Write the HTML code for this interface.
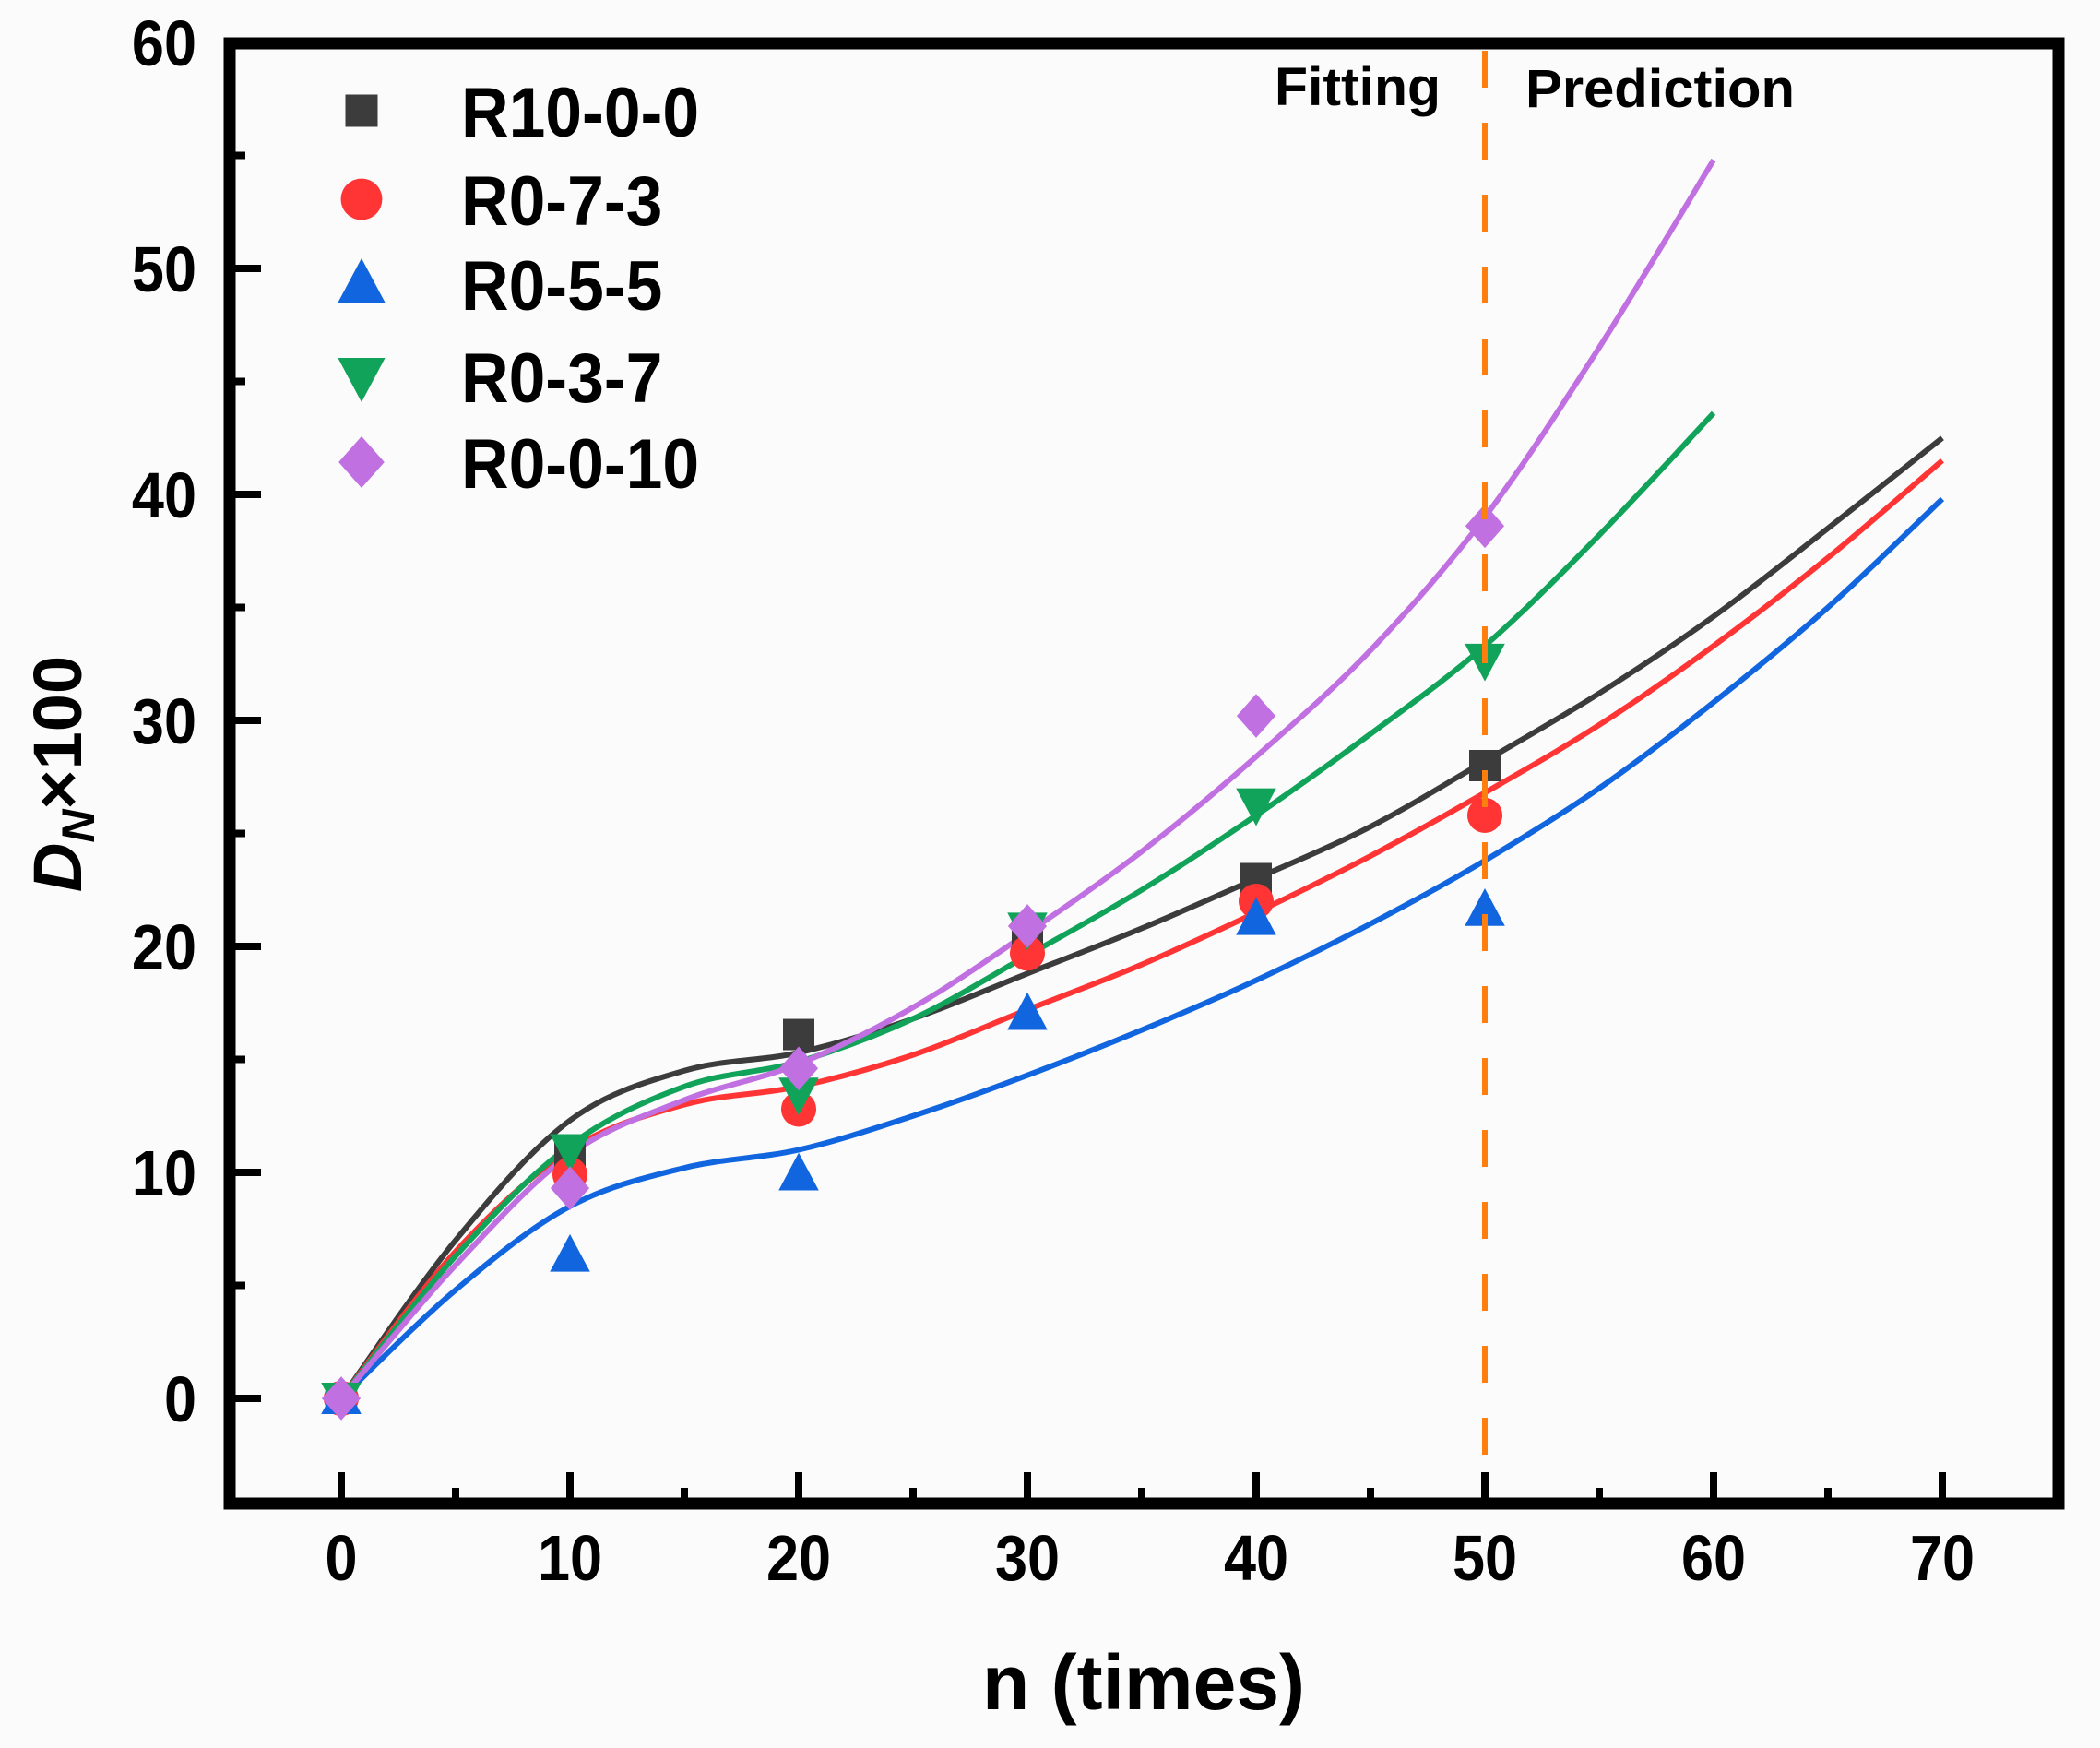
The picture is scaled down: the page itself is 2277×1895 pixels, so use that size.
<!DOCTYPE html>
<html><head><meta charset="utf-8"><style>
html,body{margin:0;padding:0;background:#fbfbfb;}
svg{display:block;font-family:"Liberation Sans",Arial,sans-serif;font-weight:bold;}
</style></head><body>
<svg id="chart" width="2277" height="1895" viewBox="0 0 2277 1895" xmlns="http://www.w3.org/2000/svg">
<rect x="0" y="0" width="2277" height="1895" fill="#fbfbfb"/>
<g id="curves"></g>
<g id="marks"></g>
<g id="axes"></g>
<text x="1472" y="114" font-size="58" text-anchor="middle" textLength="180" lengthAdjust="spacingAndGlyphs">Fitting</text>
<text x="1800" y="116" font-size="58" text-anchor="middle" textLength="292" lengthAdjust="spacingAndGlyphs">Prediction</text>
<text x="1240" y="1853" font-size="84" text-anchor="middle">n (times)</text>
<text transform="translate(88,839) rotate(-90)" font-size="74" text-anchor="middle"><tspan font-style="italic">D</tspan><tspan font-style="italic" font-size="50" dy="14">N</tspan><tspan dy="-14">×100</tspan></text>
<g id="legend"></g>
</svg>
<script>
const seriesNames = ["R10-0-0","R0-7-3","R0-5-5","R0-3-7","R0-0-10"];
const colors = ["#3c3c3c","#ff3535","#1166e0","#12a35a","#c070e0"];
const pointX = [0,10,20,30,40,50];
const ptR10 = [0,10.8,16.1,20.5,23.0,28.0];
const ptR073 = [0,9.9,12.8,19.7,22.0,25.8];
const ptR055 = [0,6.3,9.9,17.0,21.2,21.6];
const ptR037 = [0,11.0,13.5,20.8,26.3,32.7];
const ptR0010 = [0,9.3,14.6,20.9,30.2,38.6];
const curveX = [0,5,10,15,20,25,30,35,40,45,50,55,60,65,70];
const fitR10 = [0,7.0,12.3,14.5,15.3,16.8,18.8,20.8,23.0,25.3,28.2,31.2,34.6,38.5,42.5];
const fitR073 = [0,6.5,11.0,13.0,13.8,15.2,17.2,19.2,21.5,24.0,26.8,29.8,33.3,37.2,41.5];
const fitR055 = [0,4.8,8.5,10.2,11.0,12.5,14.3,16.3,18.5,21.0,23.8,27.0,30.8,35.0,39.8];
const fitR037 = [0,6.3,11.2,13.8,14.9,16.8,19.6,22.5,25.8,29.4,33.3,38.2,43.6];
const fitR0010 = [0,5.9,10.8,13.2,14.8,17.3,20.6,24.2,28.4,33.1,39.0,46.5,54.8];
const xTicks = [0,10,20,30,40,50,60,70];
const yTicks = [0,10,20,30,40,50,60];
const dividerX = 50;

const pts=[ptR10,ptR073,ptR055,ptR037,ptR0010];
const fits=[fitR10,fitR073,fitR055,fitR037,fitR0010];
const X0=370, XS=24.8, Y0=1516, YS=24.5;
const L=249,T=47,R=2232,B=1630;
const sx=v=>X0+v*XS, sy=v=>Y0-v*YS;
const NS="http://www.w3.org/2000/svg";
function mk(tag,attrs,parent){const e=document.createElementNS(NS,tag);for(const k in attrs)e.setAttribute(k,attrs[k]);parent.appendChild(e);return e;}
const gC=document.getElementById('curves'),gM=document.getElementById('marks'),gA=document.getElementById('axes'),gL=document.getElementById('legend');

function smooth(p){let d=`M${p[0][0]},${p[0][1]}`;for(let i=0;i<p.length-1;i++){const p0=p[i-1]||p[i],p1=p[i],p2=p[i+1],p3=p[i+2]||p2;
d+=` C${p1[0]+(p2[0]-p0[0])/6},${p1[1]+(p2[1]-p0[1])/6} ${p2[0]-(p3[0]-p1[0])/6},${p2[1]-(p3[1]-p1[1])/6} ${p2[0]},${p2[1]}`;}return d;}

fits.forEach((f,i)=>{const p=f.map((v,j)=>[sx(curveX[j]),sy(v)]);
const c=mk('path',{d:smooth(p),fill:'none',stroke:colors[i],'stroke-width':6},gC);

});

function marker(k,cx,cy,s,parent){let e;const c=colors[k];
if(k===0)e=mk('rect',{x:cx-s*0.5,y:cy-s*0.5,width:s,height:s,fill:c},parent);
else if(k===1)e=mk('circle',{cx:cx,cy:cy,r:s*0.56,fill:c},parent);
else if(k===2)e=mk('polygon',{points:`${cx},${cy-s*0.7} ${cx+s*0.64},${cy+s*0.5} ${cx-s*0.64},${cy+s*0.5}`,fill:c},parent);
else if(k===3)e=mk('polygon',{points:`${cx},${cy+s*0.7} ${cx+s*0.64},${cy-s*0.5} ${cx-s*0.64},${cy-s*0.5}`,fill:c},parent);
else e=mk('polygon',{points:`${cx},${cy-s*0.7} ${cx+s*0.62},${cy} ${cx},${cy+s*0.7} ${cx-s*0.62},${cy}`,fill:c},parent);
return e;}

pts.forEach((arr,k)=>{arr.forEach((v,j)=>{const e=marker(k,sx(pointX[j]),sy(v),34,gM);

});});

const dv=mk('line',{x1:sx(dividerX),x2:sx(dividerX),y1:T+8,y2:B,stroke:'#ff7f0e','stroke-width':6,'stroke-dasharray':'40 38'},gA);



const fr=mk('rect',{x:L,y:T,width:R-L,height:B-T,fill:'none',stroke:'#000','stroke-width':13},gA);



xTicks.forEach(v=>{const x=sx(v);
const t=mk('line',{x1:x,x2:x,y1:B,y2:B-34,stroke:'#000','stroke-width':8},gA);


const lb=mk('text',{x:x,y:1713,'font-size':70,'text-anchor':'middle',transform:`translate(${x},0) scale(0.9,1) translate(${-x},0)`},gA);lb.textContent=v;


if(v<70){const m=mk('line',{x1:sx(v+5),x2:sx(v+5),y1:B,y2:B-17,stroke:'#000','stroke-width':8},gA);

}});

yTicks.forEach(v=>{const y=sy(v);
const t=mk('line',{x1:L,x2:L+34,y1:y,y2:y,stroke:'#000','stroke-width':8},gA);


const lb=mk('text',{x:213,y:y+25,'font-size':70,'text-anchor':'end',transform:`translate(213,0) scale(0.9,1) translate(-213,0)`},gA);lb.textContent=v;


const mv=v-5;if(sy(mv)<B-10){const m=mk('line',{x1:L,x2:L+17,y1:sy(mv),y2:sy(mv),stroke:'#000','stroke-width':8},gA);

}});

const legY=[120,216,308,408,501];
seriesNames.forEach((n,k)=>{const g=mk('g',{},gL);


const s=marker(k,392,legY[k],k===0?35:40,g);


const t=mk('text',{x:500,y:legY[k]+28,'font-size':76,transform:`translate(500,0) scale(0.94,1) translate(-500,0)`},g);t.textContent=n;

});
</script>
</body></html>
